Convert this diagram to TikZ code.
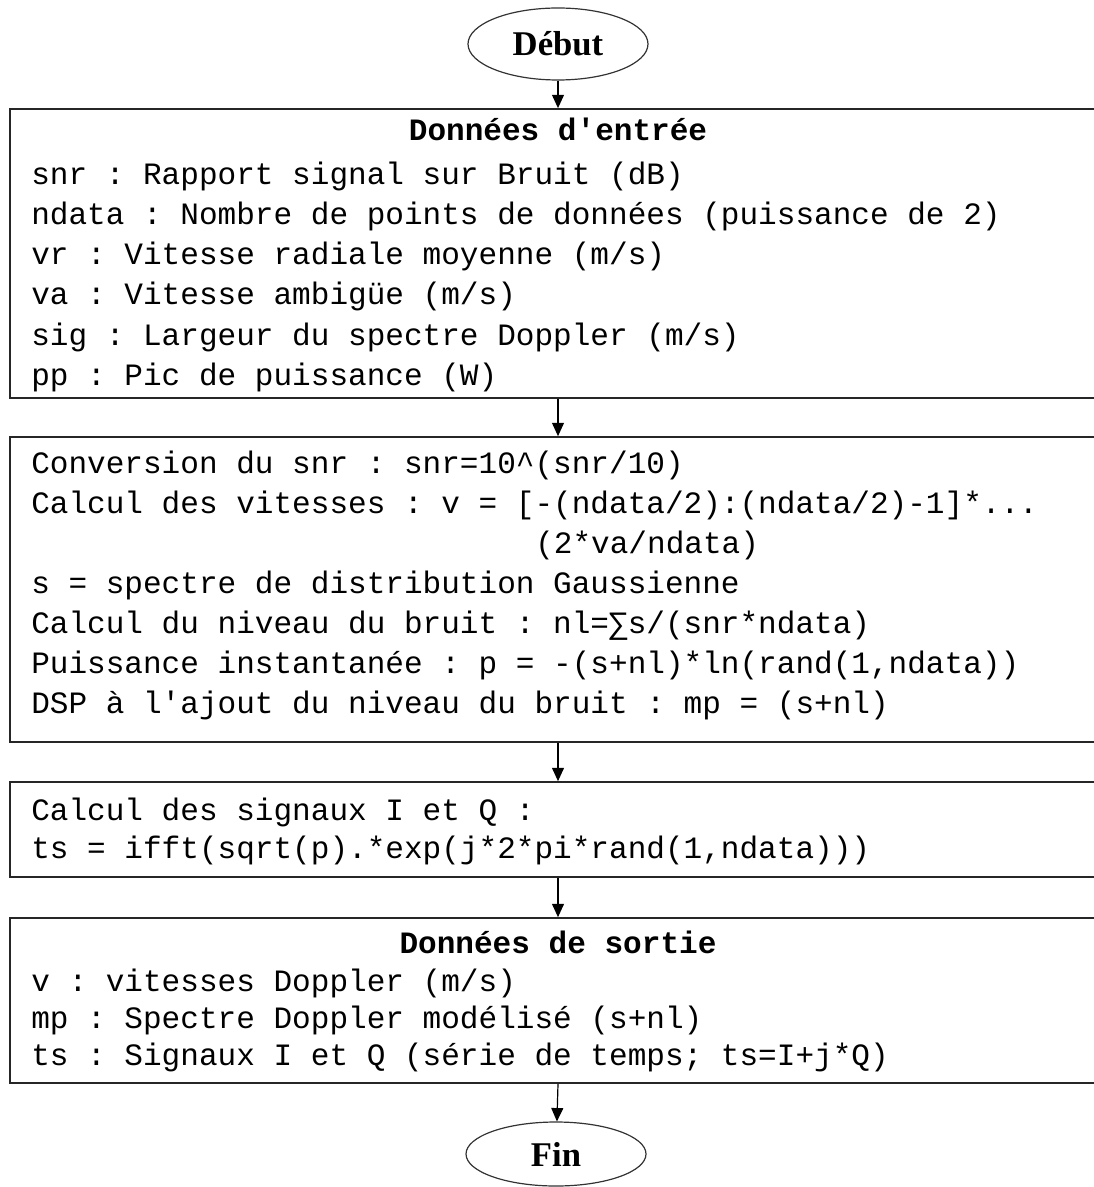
\documentclass[tikz,border=0pt]{standalone}
\usepackage{fontspec}
\setmainfont{Liberation Serif}
\setmonofont{Liberation Mono}
\usetikzlibrary{arrows.meta,shapes.geometric}

\begin{document}
\begin{tikzpicture}[
  x=0.75pt, y=-0.75pt,
  terme/.style = {draw=black!80, ellipse, line width=0.9pt, minimum width=135pt,
                  inner sep=0pt, font=\fontsize{26}{30}\selectfont\bfseries},
  boite/.style = {draw=black!85, line width=1.3pt, minimum width=814.5pt,
                  inner sep=0pt},
  titre/.style = {font=\ttfamily\bfseries\fontsize{23.3}{30}\selectfont,
                  inner sep=0pt, anchor=base},
  ligne/.style = {font=\ttfamily\fontsize{23.3}{30}\selectfont,
                  inner sep=0pt, anchor=base west},
  fl/.style    = {-{Triangle[length=10pt,width=9pt]}, line width=0.9pt},
]
  \useasboundingbox (0,0) rectangle (1094,1187);

  % ---- debut / fin ------------------------------------------
  \node[terme, minimum height=54pt] (debut) at (558,  44) {Début};
  \node[terme, minimum height=48pt] (fin)   at (556,1154) {Fin};

  % ---- boites -----------------------------------------------
  \node[boite, minimum height=216.75pt] (entree) at (553, 253.5) {};
  \node[boite, minimum height=228.75pt] (calc)   at (553, 589.5) {};
  \node[boite, minimum height=71.25pt]  (sig)    at (553, 829.5) {};
  \node[boite, minimum height=123.75pt] (sortie) at (553,1000.5) {};

  % ---- donnees d'entree -------------------------------------
  \node[titre] (te) at (558, 141) {Données d'entrée};
  \node[ligne] (e1) at ( 31, 185) {snr : Rapport signal sur Bruit (dB)};
  \node[ligne] (e2) at ( 31, 225) {ndata : Nombre de points de données (puissance de 2)};
  \node[ligne] (e3) at ( 31, 265) {vr : Vitesse radiale moyenne (m/s)};
  \node[ligne] (e4) at ( 31, 305) {va : Vitesse ambigüe (m/s)};
  \node[ligne] (e5) at ( 31, 345) {sig : Largeur du spectre Doppler (m/s)};
  \node[ligne] (e6) at ( 31, 385) {pp : Pic de puissance (W)};

  % ---- calculs ----------------------------------------------
  \node[ligne] (c1) at ( 31, 473) {Conversion du snr : snr=10\^{}(snr/10)};
  \node[ligne] (c2) at ( 31, 513) {Calcul des vitesses : v = [-(ndata/2):(ndata/2)-1]*...};
  \node[ligne] (c3) at (535, 553) {(2*va/ndata)};
  \node[ligne] (c4) at ( 31, 593) {s = spectre de distribution Gaussienne};
  \node[ligne] (c5) at ( 31, 633) {Calcul du niveau du bruit : nl=∑s/(snr*ndata)};
  \node[ligne] (c6) at ( 31, 673) {Puissance instantanée : p = -(s+nl)*ln(rand(1,ndata))};
  \node[ligne] (c7) at ( 31, 713) {DSP à l'ajout du niveau du bruit : mp = (s+nl)};

  % ---- signaux I et Q ---------------------------------------
  \node[ligne] (s1) at ( 31, 820) {Calcul des signaux I et Q :};
  \node[ligne] (s2) at ( 31, 858) {ts = ifft(sqrt(p).*exp(j*2*pi*rand(1,ndata)))};

  % ---- donnees de sortie ------------------------------------
  \node[titre] (ts) at (558, 953) {Données de sortie};
  \node[ligne] (o1) at ( 31, 991) {v : vitesses Doppler (m/s)};
  \node[ligne] (o2) at ( 31,1028) {mp : Spectre Doppler modélisé (s+nl)};
  \node[ligne] (o3) at ( 31,1065) {ts : Signaux I et Q (série de temps; ts=I+j*Q)};

  % ---- fleches ----------------------------------------------
  \draw[fl] (debut) -- (entree.north -| debut);
  \draw[fl] (entree.south -| debut) -- (calc.north -| debut);
  \draw[fl] (calc.south -| debut) -- (sig.north -| debut);
  \draw[fl] (sig.south -| debut) -- (sortie.north -| debut);
  \draw[fl] (sortie.south -| debut) -- (fin);

\end{tikzpicture}
\end{document}
